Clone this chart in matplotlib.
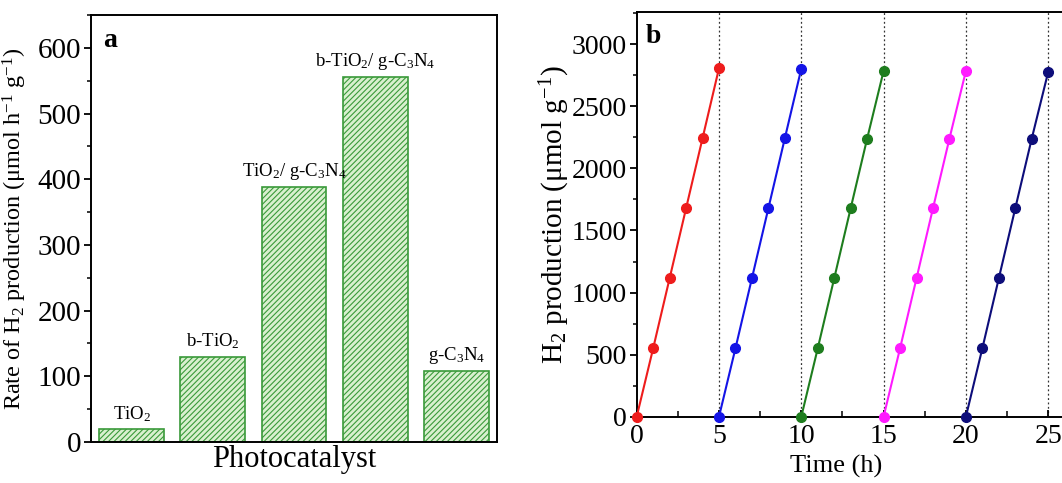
import matplotlib
matplotlib.use("Agg")
import matplotlib.pyplot as plt
from matplotlib.ticker import MultipleLocator

plt.rcParams['font.family'] = ['Liberation Serif', 'DejaVu Serif']
plt.rcParams['mathtext.fontset'] = 'custom'
plt.rcParams['mathtext.rm'] = 'Liberation Serif'
plt.rcParams['mathtext.it'] = 'Liberation Serif:italic'
plt.rcParams['hatch.linewidth'] = 0.8

# Panel a data
catalysts = ['TiO$_2$', 'b-TiO$_2$', 'TiO$_2$/ g-C$_3$N$_4$', 'b-TiO$_2$/ g-C$_3$N$_4$', 'g-C$_3$N$_4$']
rates = [20, 130, 388, 555, 108]

# Panel b data (five cycles)
cycle_times = [[0, 1, 2, 3, 4, 5], [5, 6, 7, 8, 9, 10], [10, 11, 12, 13, 14, 15],
               [15, 16, 17, 18, 19, 20], [20, 21, 22, 23, 24, 25]]
cycle_h2 = [[0, 551, 1115, 1679, 2243, 2807],
            [0, 551, 1115, 1679, 2243, 2803],
            [0, 551, 1115, 1679, 2240, 2785],
            [0, 551, 1115, 1679, 2240, 2785],
            [0, 551, 1115, 1679, 2240, 2777]]
cycle_colors = ['#ee1c1c', '#1414e6', '#1e7d1e', '#ff1aff', '#0d0d7a']
cycle_ends = [5, 10, 15, 20, 25]

W, H = 1062, 483
fig = plt.figure(figsize=(W / 100, H / 100), dpi=100)

def rect(l, t, r, b):
    return [l / W, 1 - b / H, (r - l) / W, (b - t) / H]

# ---- Panel a ----
ax1 = fig.add_axes(rect(91, 15, 497, 442))
x = list(range(len(rates)))
ax1.bar(x, rates, width=0.8, color='#d9f0cf', edgecolor='#3a9a3a', hatch='//////', linewidth=1.2)
for xi, v, lab in zip(x, rates, catalysts):
    ax1.text(xi, v + 8, lab, ha='center', va='bottom', fontsize=13.5)
ax1.set_xlim(-0.5, 4.5)
ax1.set_ylim(0, 650)
ax1.set_xticks([])
ax1.yaxis.set_major_locator(MultipleLocator(100))
ax1.yaxis.set_minor_locator(MultipleLocator(50))
ax1.tick_params(axis='y', which='major', direction='out', length=5, width=1.3, labelsize=21, pad=2)
ax1.tick_params(axis='y', which='minor', direction='out', length=3, width=1.1)
ax1.set_xlabel('Photocatalyst', fontsize=22, labelpad=2)
ax1.set_ylabel('Rate of H$_2$ production (μmol h$^{-1}$ g$^{-1}$)', fontsize=17.5, labelpad=6)
for s in ax1.spines.values():
    s.set_linewidth(1.4)
ax1.text(0.03, 0.97, 'a', transform=ax1.transAxes, fontsize=20, fontweight='bold', va='top', ha='left')

# ---- Panel b ----
x0 = 636.7
px_per_h = 82.3 / 5
xmax = 27.0
right_px = x0 + xmax * px_per_h
ax2 = fig.add_axes(rect(x0, 12, right_px, 416.7))
for ce in cycle_ends:
    ax2.axvline(ce, color='#333333', linestyle=(0, (1.5, 2.0)), linewidth=0.9, zorder=1)
for t, h, c in zip(cycle_times, cycle_h2, cycle_colors):
    ax2.plot(t, h, '-o', color=c, markersize=7, linewidth=1.5, zorder=3, clip_on=False)
ax2.set_xlim(0, xmax)
ax2.set_ylim(0, 3260)
ax2.xaxis.set_major_locator(MultipleLocator(5))
ax2.xaxis.set_minor_locator(MultipleLocator(2.5))
ax2.yaxis.set_major_locator(MultipleLocator(500))
ax2.yaxis.set_minor_locator(MultipleLocator(250))
ax2.tick_params(axis='x', which='major', direction='in', length=5, width=1.3, labelsize=20, pad=5)
ax2.tick_params(axis='x', which='minor', direction='in', length=4, width=1.1)
ax2.tick_params(axis='y', which='major', direction='out', length=5, width=1.3, labelsize=20, pad=2)
ax2.tick_params(axis='y', which='minor', direction='out', length=3, width=1.1)
ax2.set_xlabel('Time (h)', fontsize=19, labelpad=0)
ax2.xaxis.set_label_coords((836 - x0) / (right_px - x0), -0.095)
ax2.set_ylabel('H$_2$ production (μmol g$^{-1}$)', fontsize=21, labelpad=0)
for s in ax2.spines.values():
    s.set_linewidth(1.4)
ax2.text(0.02, 0.97, 'b', transform=ax2.transAxes, fontsize=20, fontweight='bold', va='top', ha='left')

fig.savefig('out.png', dpi=100)
